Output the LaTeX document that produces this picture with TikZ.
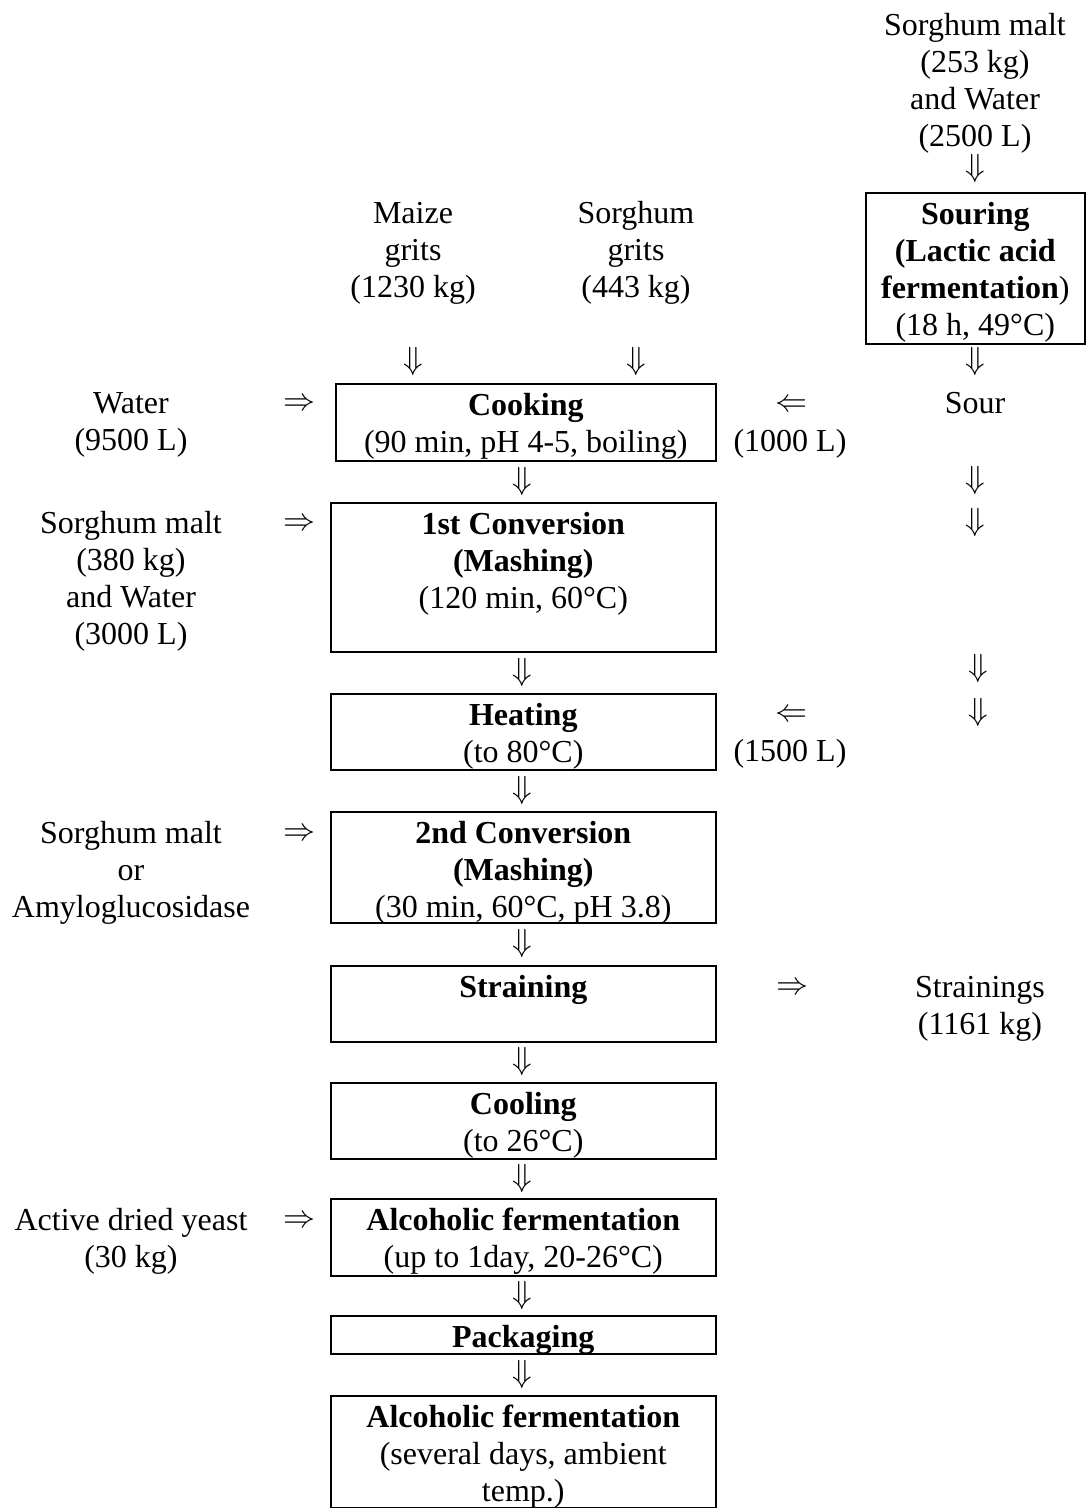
\RequirePackage{fix-cm}
\documentclass[tikz,border=0pt]{standalone}
\usepackage{fontspec}
\setmainfont{Liberation Serif}
\newcommand\fs{\fontsize{32}{37}\selectfont}
\newcommand\fl{\rule{0pt}{31.5pt}}
\newcommand\inbox[3]{\parbox[c][#2][t]{#1}{\centering\fl #3}}
\tikzset{
  lbl/.style={inner sep=0pt, align=center, anchor=north, font=\fs},
  bx/.style={draw, line width=1.6pt, inner sep=0pt, anchor=north west, font=\fs},
  arr/.style={inner sep=0pt, font=\fs}
}
\begin{document}
\begin{tikzpicture}[x={(1pt,0)}, y={(0,-1pt)}]
\useasboundingbox (0,0) rectangle (1088,1508);

% right column: souring
\node[lbl] (malt1) at (975,3.5) {\fl Sorghum malt\\(253 kg)\\and Water\\(2500 L)};
\node[arr] (ar1) at (975,168) {$\Downarrow$};
\node[bx] (souring) at (865,192) {\inbox{219pt}{151pt}{\textbf{Souring}\\\textbf{(Lactic acid}\\\textbf{fermentation})\\(18 h, 49°C)}};
\node[arr] (ar2) at (975,361) {$\Downarrow$};
\node[lbl] (sour) at (975,381.5) {\fl Sour};
\node[arr] (ar3) at (975,480) {$\Downarrow$};
\node[arr] (ar4) at (975,522) {$\Downarrow$};
\node[arr] (ar5) at (978,668) {$\Downarrow$};
\node[arr] (ar6) at (978,712) {$\Downarrow$};

% top inputs
\node[lbl] (maize) at (413,191.5) {\fl Maize\\grits\\(1230 kg)};
\node[lbl] (sgrits) at (636,191.5) {\fl Sorghum\\grits\\(443 kg)};
\node[arr] (am) at (413,361) {$\Downarrow$};
\node[arr] (as) at (636,361) {$\Downarrow$};

% main column boxes
\node[bx] (cooking) at (335,383) {\inbox{380pt}{77pt}{\textbf{Cooking}\\(90 min, pH 4-5, boiling)}};
\node[arr] (c1) at (522,481) {$\Downarrow$};
\node[bx] (conv1) at (330,502) {\inbox{385pt}{149pt}{\textbf{1st Conversion}\\\textbf{(Mashing)}\\(120 min, 60°C)}};
\node[arr] (c2) at (522,672) {$\Downarrow$};
\node[bx] (heating) at (330,693) {\inbox{385pt}{76pt}{\textbf{Heating}\\(to 80°C)}};
\node[arr] (c3) at (522,790) {$\Downarrow$};
\node[bx] (conv2) at (330,811) {\inbox{385pt}{111pt}{\textbf{2nd Conversion}\\\textbf{(Mashing)}\\(30 min, 60°C, pH 3.8)}};
\node[arr] (c4) at (522,943) {$\Downarrow$};
\node[bx] (straining) at (330,965) {\inbox{385pt}{76pt}{\textbf{Straining}}};
\node[arr] (c5) at (522,1061) {$\Downarrow$};
\node[bx] (cooling) at (330,1082) {\inbox{385pt}{76pt}{\textbf{Cooling}\\(to 26°C)}};
\node[arr] (c6) at (522,1178) {$\Downarrow$};
\node[bx] (alc1) at (330,1198) {\inbox{385pt}{77pt}{\textbf{Alcoholic fermentation}\\(up to 1day, 20-26°C)}};
\node[arr] (c7) at (522,1295) {$\Downarrow$};
\node[bx] (pack) at (330,1315) {\inbox{385pt}{38pt}{\textbf{Packaging}}};
\node[arr] (c8) at (522,1374) {$\Downarrow$};
\node[bx] (alc2) at (330,1395) {\inbox{385pt}{112pt}{\textbf{Alcoholic fermentation}\\(several days, ambient\\temp.)}};

% left inputs
\node[lbl] (water) at (131,381.5) {\fl Water\\(9500 L)};
\node[arr] (l1) at (299,405) {$\Rightarrow$};
\node[lbl] (malt2) at (131,501.5) {\fl Sorghum malt\\(380 kg)\\and Water\\(3000 L)};
\node[arr] (l2) at (299,525) {$\Rightarrow$};
\node[lbl] (malt3) at (131,811.5) {\fl Sorghum malt\\or\\Amyloglucosidase};
\node[arr] (l3) at (299,835) {$\Rightarrow$};
\node[lbl] (yeast) at (131,1198.5) {\fl Active dried yeast\\(30 kg)};
\node[arr] (l4) at (299,1222) {$\Rightarrow$};

% right side inputs / outputs
\node[arr] (r1) at (791,406) {$\Leftarrow$};
\node[lbl] (s1000) at (790,419.5) {\fl (1000 L)};
\node[arr] (r2) at (791,716) {$\Leftarrow$};
\node[lbl] (s1500) at (790,729.5) {\fl (1500 L)};
\node[arr] (r3) at (792,989) {$\Rightarrow$};
\node[lbl] (strainings) at (980,965.5) {\fl Strainings\\(1161 kg)};
\end{tikzpicture}
\end{document}
